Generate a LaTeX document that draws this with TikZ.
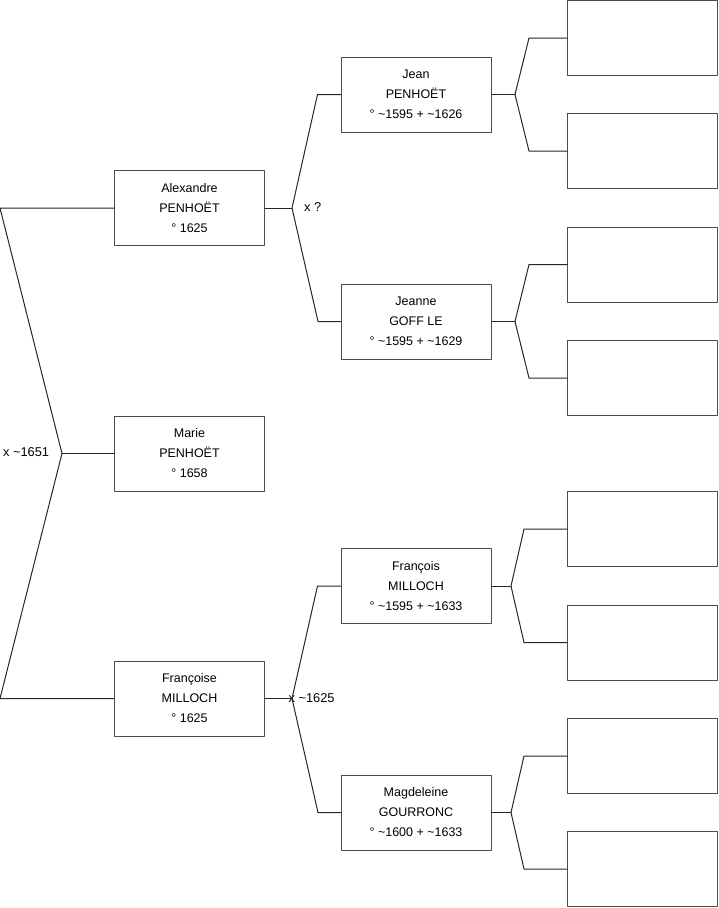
\documentclass[tikz,border=0pt]{standalone}
\usepackage{fontspec}
\setmainfont{Liberation Sans}
\usetikzlibrary{positioning}
\newcommand{\ca}{\textasciitilde}
\tikzset{
  every picture/.style={line join=round, line cap=round},
  person/.style={draw=black!70, line width=1pt, minimum width=150pt, minimum height=75pt,
    inner sep=0pt, align=center, font=\fontsize{12.5}{20}\selectfont},
  link/.style={draw=black!85, line width=1pt},
  wed/.style={inner sep=0pt, anchor=west, font=\fontsize{12.8}{14}\selectfont},
}
\begin{document}
\begin{tikzpicture}[x=1pt,y=-1pt]
\useasboundingbox (0,0) rectangle (719,908);
% generation 1
\node[person] (marie) at (189.5,453.5) {Marie\\PENHOËT\\° 1658};
% generation 2
\node[person] (alex) at (189.5,208) {Alexandre\\PENHOËT\\° 1625};
\node[person] (franc) at (189.5,698.5) {Françoise\\MILLOCH\\° 1625};
% generation 3
\node[person] (jean) at (416,94.5) {Jean\\PENHOËT\\° \ca1595 + \ca1626};
\node[person] (jeanne) at (416,321.5) {Jeanne\\GOFF LE\\° \ca1595 + \ca1629};
\node[person] (francois) at (416,586) {François\\MILLOCH\\° \ca1595 + \ca1633};
\node[person] (magd) at (416,812.5) {Magdeleine\\GOURRONC\\° \ca1600 + \ca1633};
% generation 4 (empty)
\foreach \n/\y in {a/38,b/151,c/264.5,d/378,e/529,f/642.5,g/756,h/869}
  \node[person] (e\n) at (642.5,\y) {};
% junctions
\coordinate (l1) at (0,208);
\coordinate (l0) at (62,453.5);
\coordinate (l2) at (0,698.5);
\coordinate (j1) at (292,208);
\coordinate (j2) at (292,698.5);
\coordinate (k1) at (515,94.5);
\coordinate (k2) at (515,321.5);
\coordinate (k3) at (511,586);
\coordinate (k4) at (511,812.5);
% marriage labels
\node[wed] (w0) at (3,452) {x \ca1651};
\node[wed] (w1) at (304,207) {x ?};
\node[wed] (w2) at (288.5,698) {x \ca1625};
% parents of Marie
\draw[link] (alex.west) -- (l1) -- (l0) -- (l2) -- (franc.west);
\draw[link] (l0) -- (marie.west);
% parents of Alexandre and Françoise
\draw[link] (alex.east) -- (j1);
\draw[link] (jean.west) -- ++(-23,0) -- (j1) -- (jeanne.west -| 318,0) -- (jeanne.west);
\draw[link] (franc.east) -- (j2);
\draw[link] (francois.west) -- ++(-23,0) -- (j2) -- (magd.west -| 318,0) -- (magd.west);
% next generation, empty boxes
\draw[link] (jean.east) -- (k1);
\draw[link] (ea.west) -- ++(-38,0) -- (k1) -- (eb.west -| 529,0) -- (eb.west);
\draw[link] (jeanne.east) -- (k2);
\draw[link] (ec.west) -- ++(-38,0) -- (k2) -- (ed.west -| 529,0) -- (ed.west);
\draw[link] (francois.east) -- (k3);
\draw[link] (ee.west) -- ++(-43,0) -- (k3) -- (ef.west -| 524,0) -- (ef.west);
\draw[link] (magd.east) -- (k4);
\draw[link] (eg.west) -- ++(-43,0) -- (k4) -- (eh.west -| 524,0) -- (eh.west);
\end{tikzpicture}
\end{document}
